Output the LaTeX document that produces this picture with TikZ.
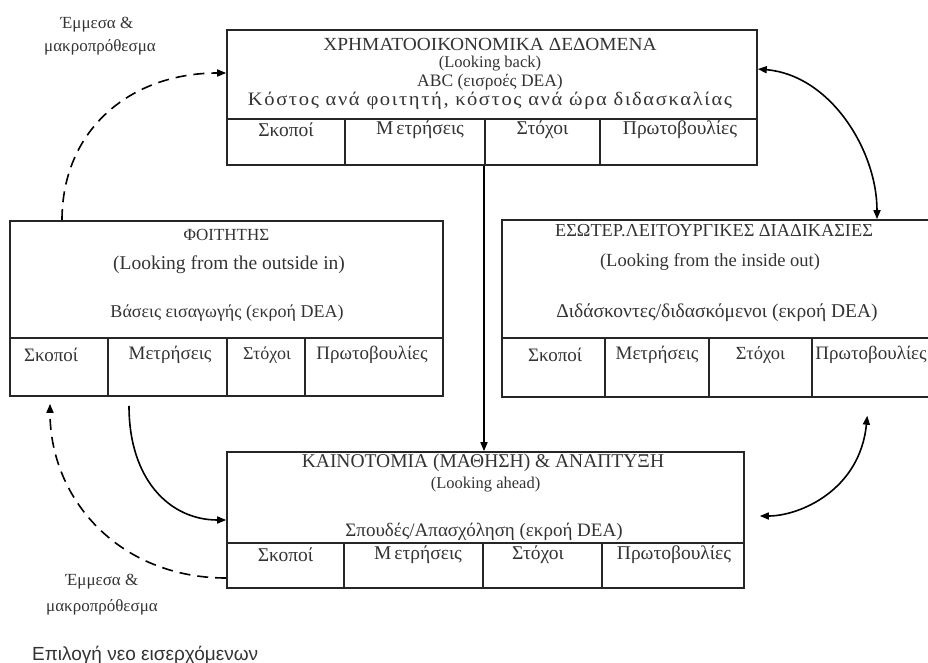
\documentclass[tikz,border=0pt]{standalone}
\usepackage{fontspec}
\setmainfont{Liberation Serif}
\newfontfamily\gk[LetterSpace=8]{Liberation Serif}
\newfontfamily\notefont{Liberation Sans}
\usetikzlibrary{arrows.meta,calc}
\begin{document}
\begin{tikzpicture}[x=1pt,y=-1pt,
  box/.style={draw=black!85, line width=1.6pt, inner sep=0pt},
  rule/.style={draw=black!85, line width=1.6pt},
  txt/.style={inner sep=0pt, text=black!80},
  fs/.style={font=\fontsize{#1}{#1}\selectfont},
  conn/.style={draw=black, line width=1.6pt, -{Triangle[length=9pt,width=7pt]}},
  twoway/.style={draw=black, line width=1.6pt, {Triangle[length=9pt,width=7pt]}-{Triangle[length=9pt,width=7pt]}},
  dashconn/.style={conn, dash pattern=on 11pt off 7pt}
]
\useasboundingbox (0,0) rectangle (928,663);

% ---- financial perspective (top) ----
\node[box, minimum width=530pt, minimum height=135pt] (fin) at (492,97.5) {};
\node[txt, fs=18.5] (finT1) at (490,44) {\scalebox{1.05}[1]{ΧΡΗΜΑΤΟΟΙΚΟΝΟΜΙΚΑ ΔΕΔΟΜΕΝΑ}};
\node[txt, fs=16.5] (finT2) at (490,64) {(Looking back)};
\node[txt, fs=17.5] (finT3) at (490,82.5) {ABC (εισροές DEA)};
\node[txt, fs=19] (finT4) at (490,101) {\scalebox{1.08}[1]{\gk Κόστος ανά φοιτητή, κόστος ανά ώρα διδασκαλίας}};
\draw[rule] (fin.west |- 0,119) -- (fin.east |- 0,119);
\foreach \cx in {345,485,600} \draw[rule] (\cx,119) -- (\cx,165);
\node[txt, fs=19.5] (finC1) at (286,130) {Σκοποί};
\node[txt, fs=19.5] (finC2) at (420,130) {Μ\kern3ptετρήσεις};
\node[txt, fs=19.5] (finC3) at (542.5,130) {Στόχοι};
\node[txt, fs=19.5] (finC4) at (680,130) {Πρωτοβουλίες};

% ---- student perspective (left) ----
\node[box, minimum width=433pt, minimum height=175pt] (stu) at (226.5,308.5) {};
\node[txt, fs=17] (stuT1) at (226.5,235) {ΦΟΙΤΗΤΗΣ};
\node[txt, fs=19.5] (stuT2) at (229,265) {(Looking from the outside in)};
\node[txt, fs=18] (stuT3) at (227,313) {Βάσεις εισαγωγής (εκροή DEA)};
\draw[rule] (stu.west |- 0,338) -- (stu.east |- 0,338);
\foreach \cx in {108,227,305} \draw[rule] (\cx,338) -- (\cx,396);
\node[txt, fs=19] (stuC1) at (51,355) {Σκοποί};
\node[txt, fs=19] (stuC2) at (170,355) {Μετρήσεις};
\node[txt, fs=18] (stuC3) at (267,355) {Στόχοι};
\node[txt, fs=19] (stuC4) at (372,355) {Πρωτοβουλίες};

% ---- internal processes (right) ----
\node[box, minimum width=428pt, minimum height=177pt] (ops) at (716,308.5) {};
\node[txt, fs=18.3] (opsT1) at (714,231) {ΕΣΩΤΕΡ.ΛΕΙΤΟΥΡΓΙΚΕΣ ΔΙΑΔΙΚΑΣΙΕΣ};
\node[txt, fs=18.5] (opsT2) at (710,262) {(Looking from the inside out)};
\node[txt, fs=19.5] (opsT3) at (717,313) {Διδάσκοντες/διδασκόμενοι (εκροή DEA)};
\draw[rule] (ops.west |- 0,338) -- (ops.east |- 0,338);
\foreach \cx in {605,709,812} \draw[rule] (\cx,338) -- (\cx,397);
\node[txt, fs=19] (opsC1) at (555,355) {Σκοποί};
\node[txt, fs=19] (opsC2) at (657,355) {Μετρήσεις};
\node[txt, fs=18.5] (opsC3) at (760.5,355) {Στόχοι};
\node[txt, fs=19] (opsC4) at (871,355) {Πρωτοβουλίες};

% ---- innovation and growth (bottom) ----
\node[box, minimum width=517pt, minimum height=136pt] (inn) at (485.5,520) {};
\node[txt, fs=19.5] (innT1) at (483,462.5) {ΚΑΙΝΟΤΟΜΙΑ (ΜΑΘΗΣΗ) \& ΑΝΑΠΤΥΞΗ};
\node[txt, fs=16.5] (innT2) at (485.5,484.5) {(Looking ahead)};
\node[txt, fs=19] (innT3) at (484,532) {Σπουδές/Απασχόληση (εκροή DEA)};
\draw[rule] (inn.west |- 0,543) -- (inn.east |- 0,543);
\foreach \cx in {344,483,602} \draw[rule] (\cx,543) -- (\cx,588);
\node[txt, fs=19.5] (innC1) at (285.5,555) {Σκοποί};
\node[txt, fs=19.5] (innC2) at (418,555) {Μ\kern3ptετρήσεις};
\node[txt, fs=19.5] (innC3) at (538,555) {Στόχοι};
\node[txt, fs=19.5] (innC4) at (674,555) {Πρωτοβουλίες};

% ---- side notes ----
\node[txt, fs=17] (noteTopA) at (97,25) {Έμμεσα \&};
\node[txt, fs=17] (noteTopB) at (100,47) {μακροπρόθεσμα};
\node[txt, fs=17] (noteBotA) at (102,582) {Έμμεσα \&};
\node[txt, fs=17] (noteBotB) at (102,607) {μακροπρόθεσμα};
\node[txt, fs=19, anchor=west] (newcomers) at (32,655) {\notefont Επιλογή νεο εισερχόμενων};

% ---- connectors ----
\draw[conn] (fin.south -| 484,0) -- (inn.north -| 484,0);
\draw[dashconn] (stu.north -| 62,0) .. controls (62,130) and (130,73) .. (fin.west |- 0,73);
\draw[twoway] (fin.east |- 0,69) .. controls (830,75) and (877,150) .. (ops.north -| 877,0);
\draw[twoway, shorten <=18pt, shorten >=15pt] (ops.south -| 869,0) .. controls (860,490) and (800,516) .. (inn.east |- 0,516);
\draw[conn, shorten <=9pt] (stu.south -| 129,0) .. controls (129,480) and (170,520) .. (inn.west |- 0,520);
\draw[dashconn, shorten >=7pt] (inn.west |- 0,578) .. controls (120,578) and (50,500) .. (stu.south -| 50,0);
\end{tikzpicture}
\end{document}
